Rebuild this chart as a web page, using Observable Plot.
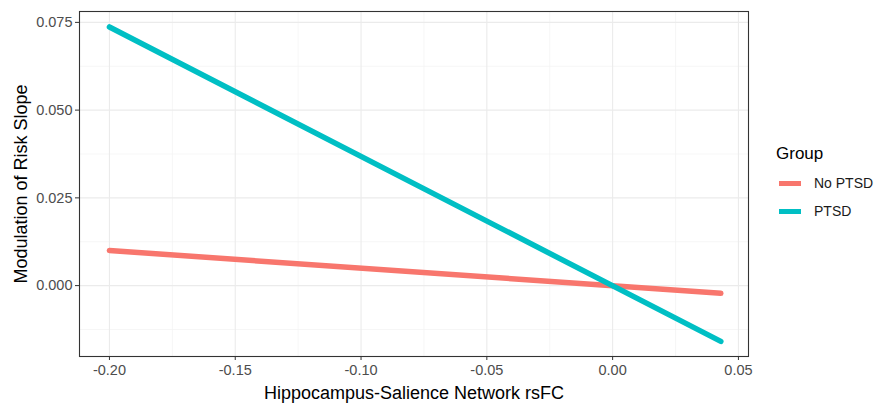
<!DOCTYPE html>
<html>
<head>
<meta charset="utf-8">
<script src="https://cdn.jsdelivr.net/npm/d3@7"></script>
<script src="https://cdn.jsdelivr.net/npm/@observablehq/plot@0.6"></script>
<style>
  body { margin: 0; background: #fff; font-family: "Liberation Sans", Arial, sans-serif; }
  #wrap { position: relative; width: 874px; height: 403px; }
  #legend { position: absolute; left: 776px; top: 143px; color: #000; }
  #legend .title { font-size: 17px; line-height: 22px; margin-bottom: 4px; }
  #legend .item { display: flex; align-items: center; height: 28px; font-size: 14px; color: #1a1a1a; }
  #legend .sw { width: 22px; height: 5px; margin-right: 13px; margin-left: 3px; }
</style>
</head>
<body>
<div id="wrap"></div>
<script>
const groups = ["No PTSD", "PTSD"];
const colors = ["#F8766D", "#00BFC4"];
const xStart = [-0.20, -0.20];
const xEnd = [0.043, 0.043];
const yStart = [0.0100, 0.0737];
const yEnd = [-0.0022, -0.0159];
const xTicks = [-0.20, -0.15, -0.10, -0.05, 0.00, 0.05];
const xMinor = [-0.175, -0.125, -0.075, -0.025, 0.025];
const yTicks = [0.000, 0.025, 0.050, 0.075];
const yMinor = [-0.0125, 0.0125, 0.0375, 0.0625];

const data = [];
groups.forEach((g, i) => {
  data.push({group: g, x: xStart[i], y: yStart[i]});
  data.push({group: g, x: xEnd[i], y: yEnd[i]});
});

const plot = Plot.plot({
  width: 874,
  height: 403,
  marginLeft: 79,
  marginRight: 126,
  marginTop: 11,
  marginBottom: 47,
  style: {fontFamily: "Liberation Sans, Arial, sans-serif", background: "#fff"},
  x: {domain: [-0.2119, 0.054]},
  y: {domain: [-0.0202, 0.0781]},
  color: {domain: groups, range: colors},
  marks: [
    Plot.gridX(xMinor, {stroke: "#F2F2F2", strokeOpacity: 1, strokeWidth: 0.7}),
    Plot.gridY(yMinor, {stroke: "#F2F2F2", strokeOpacity: 1, strokeWidth: 0.7}),
    Plot.gridX(xTicks, {stroke: "#EBEBEB", strokeOpacity: 1, strokeWidth: 1.1}),
    Plot.gridY(yTicks, {stroke: "#EBEBEB", strokeOpacity: 1, strokeWidth: 1.1}),
    Plot.line(data, {x: "x", y: "y", z: "group", stroke: "group", strokeWidth: 5.5, strokeLinecap: "round"}),
    Plot.frame({stroke: "#333333", strokeWidth: 1.1}),
    Plot.axisX(xTicks, {tickSize: 4, tickPadding: 4, stroke: "#333", fontSize: 14.5, fill: "#4D4D4D",
      tickFormat: d => d.toFixed(2), label: null}),
    Plot.axisY(yTicks, {tickSize: 4, tickPadding: 3, stroke: "#333", fontSize: 14.5, fill: "#4D4D4D",
      tickFormat: d => d.toFixed(3), label: null}),
    Plot.text(["Hippocampus-Salience Network rsFC"], {frameAnchor: "bottom", lineAnchor: "middle", dy: 37, fontSize: 18, fill: "#000"}),
    Plot.text(["Modulation of Risk Slope"], {frameAnchor: "left", textAnchor: "middle", lineAnchor: "middle", dx: -58, rotate: -90, fontSize: 18, fill: "#000"})
  ]
});
const wrap = document.getElementById("wrap");
wrap.appendChild(plot);

const legend = document.createElement("div");
legend.id = "legend";
legend.innerHTML = `<div class="title">Group</div>` + groups.map((g, i) =>
  `<div class="item"><span class="sw" style="background:${colors[i]}"></span>${g}</div>`).join("");
wrap.appendChild(legend);
</script>
</body>
</html>
